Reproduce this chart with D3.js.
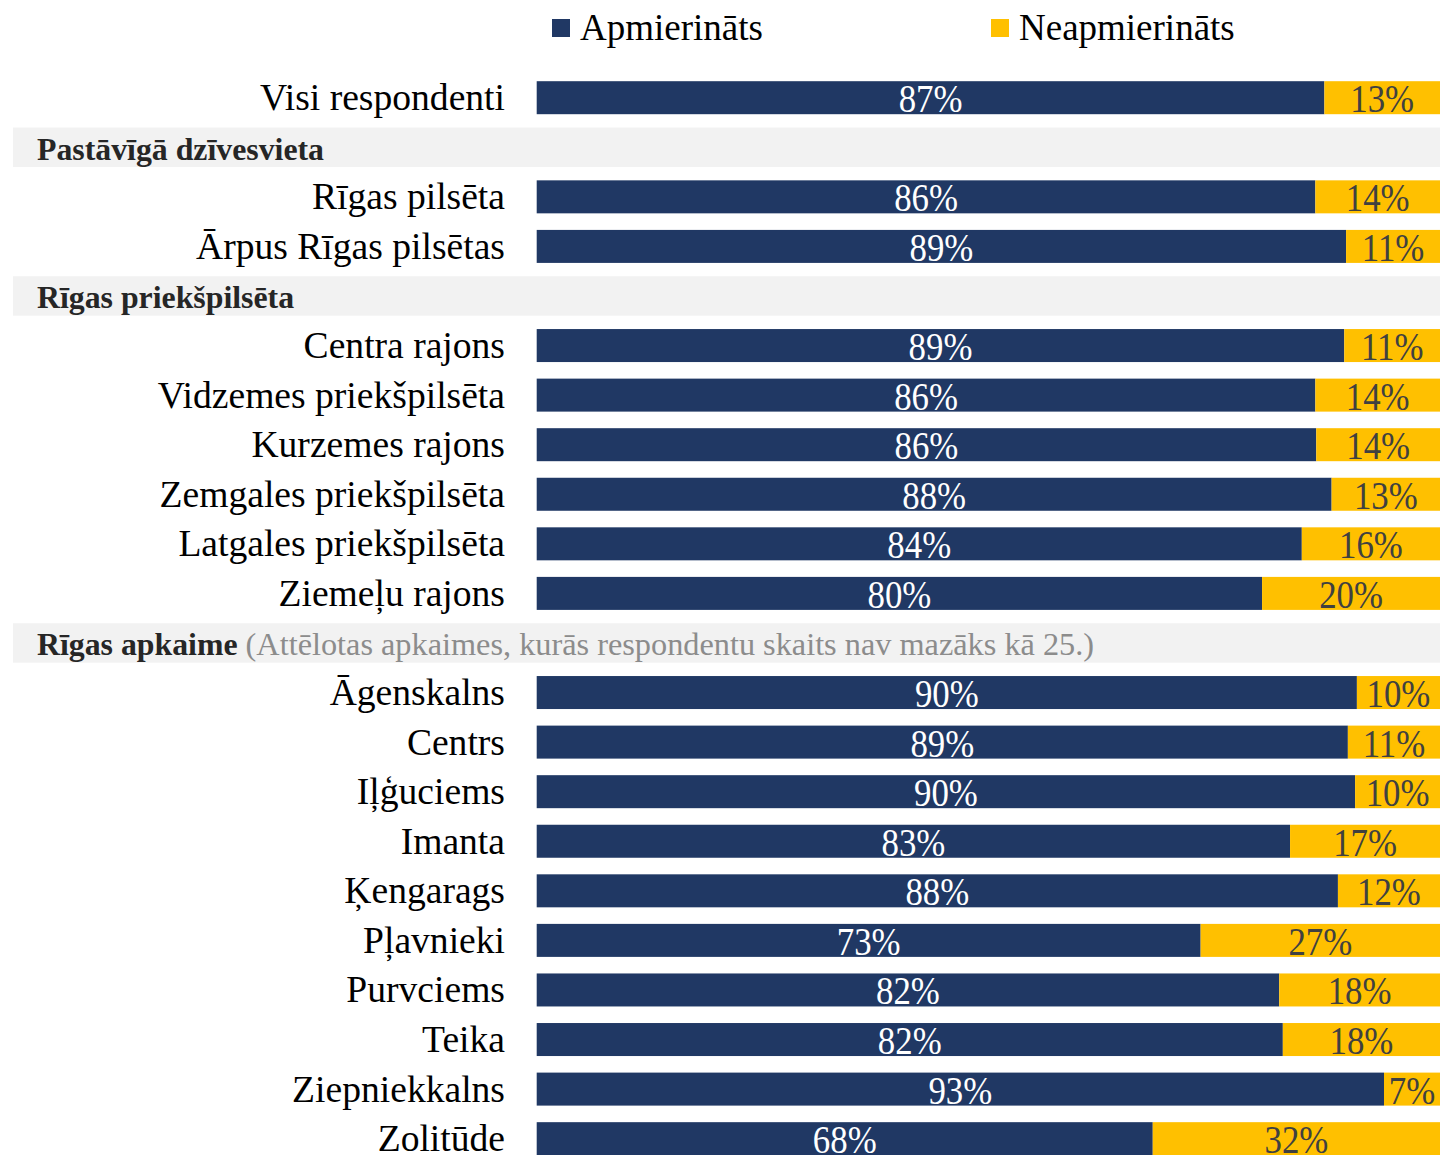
<!DOCTYPE html>
<html><head><meta charset="utf-8">
<script src="https://cdn.jsdelivr.net/npm/d3@7"></script>
<style>html,body{margin:0;padding:0;background:#fff;overflow:hidden}svg{display:block}</style>
</head><body>
<script>
// Rows (type: "row" = bar row, "head" = group header)
const rowNames = ["Visi respondenti","Pastāvīgā dzīvesvieta","Rīgas pilsēta","Ārpus Rīgas pilsētas","Rīgas priekšpilsēta","Centra rajons","Vidzemes priekšpilsēta","Kurzemes rajons","Zemgales priekšpilsēta","Latgales priekšpilsēta","Ziemeļu rajons","Rīgas apkaime","Āgenskalns","Centrs","Iļģuciems","Imanta","Ķengarags","Pļavnieki","Purvciems","Teika","Ziepniekkalns","Zolitūde"];
const rowTypes = ["row","head","row","row","head","row","row","row","row","row","row","head","row","row","row","row","row","row","row","row","row","row"];
const headNotes = ["","","","","","","","","","","","(Attēlotas apkaimes, kurās respondentu skaits nav mazāks kā 25.)","","","","","","","","","",""];
// Series values (percent), null for header rows
const satisfied    = [87.2,null,86.2,89.6,null,89.4,86.2,86.3,88.0,84.7,80.3,null,90.8,89.8,90.6,83.4,88.7,73.5,82.2,82.6,93.8,68.2];
const dissatisfied = [12.8,null,13.8,10.4,null,10.6,13.8,13.7,12.0,15.3,19.7,null, 9.2,10.2, 9.4,16.6,11.3,26.5,17.8,17.4, 6.2,31.8];
const satisfiedLabels    = ["87%",null,"86%","89%",null,"89%","86%","86%","88%","84%","80%",null,"90%","89%","90%","83%","88%","73%","82%","82%","93%","68%"];
const dissatisfiedLabels = ["13%",null,"14%","11%",null,"11%","14%","14%","13%","16%","20%",null,"10%","11%","10%","17%","12%","27%","18%","18%","7%","32%"];
const seriesNames = ["Apmierināts","Neapmierināts"];
const seriesColors = ["#203864","#FFC000"];

const W = 1440, H = 1155;
const svg = d3.select("body").append("svg").attr("width", W).attr("height", H);
const serif = "'Liberation Serif','Times New Roman',Times,serif";

const step = 49.57, y0 = 97.7 - step/2;
const y = d3.scaleBand().domain(d3.range(rowNames.length))
  .range([y0, y0 + step*rowNames.length])
  .paddingInner(1 - 33/step).paddingOuter((1 - 33/step)/2);
const cy = i => y(i) + y.bandwidth()/2;
const x = d3.scaleLinear().domain([0,100]).range([536.7, 1440]);

const idx = d3.range(rowNames.length);
const heads = idx.filter(i => rowTypes[i] === "head");
const rows = idx.filter(i => rowTypes[i] === "row");

// header backgrounds
svg.selectAll("rect.hbg").data(heads).join("rect").attr("class","hbg")
  .attr("x", 13).attr("width", W - 13)
  .attr("y", i => cy(i) - 19.7).attr("height", 39.4)
  .attr("fill", "#F2F2F2");
const ht = svg.selectAll("text.head").data(heads).join("text").attr("class","head")
  .attr("x", 37).attr("y", i => cy(i) + 12.5)
  .style("font-family", serif).style("font-size","31.8px");
ht.append("tspan").attr("font-weight","bold").attr("fill","#262626").text(i => rowNames[i]);
ht.filter(i => headNotes[i]).append("tspan").attr("fill","#8C8C8C").style("font-size","32.3px").text(i => " " + headNotes[i]);

// category labels
svg.selectAll("text.cat").data(rows).join("text").attr("class","cat")
  .attr("x", 505).attr("y", i => cy(i) + 12.5).attr("text-anchor","end")
  .style("font-family", serif).style("font-size","37.6px").attr("fill","#000")
  .text(i => rowNames[i]);

// bars
svg.selectAll("rect.sat").data(rows).join("rect").attr("class","sat")
  .attr("x", x(0)).attr("width", i => x(satisfied[i]) - x(0))
  .attr("y", i => y(i)).attr("height", y.bandwidth()).attr("fill", seriesColors[0]);
svg.selectAll("rect.dis").data(rows).join("rect").attr("class","dis")
  .attr("x", i => x(satisfied[i])).attr("width", i => x(satisfied[i] + dissatisfied[i]) - x(satisfied[i]))
  .attr("y", i => y(i)).attr("height", y.bandwidth()).attr("fill", seriesColors[1]);

// value labels
const lbl = (cls, fx, txt, col) => svg.selectAll("text."+cls).data(rows).join("text").attr("class",cls)
  .attr("transform", i => `translate(${fx(i)},${cy(i) + 14.5}) scale(0.87,1)`)
  .attr("text-anchor","middle").style("font-family", serif).style("font-size","40px")
  .attr("fill", col).text(txt);
lbl("vs", i => (x(0) + x(satisfied[i]))/2, i => satisfiedLabels[i], "#ffffff");
lbl("vd", i => (x(satisfied[i]) + x(satisfied[i] + dissatisfied[i]))/2, i => dissatisfiedLabels[i], "#404040");

// legend
const legX = [552, 991];
const lg = svg.selectAll("g.leg").data(seriesNames).join("g").attr("class","leg")
  .attr("transform", (d,k) => `translate(${legX[k]},0)`);
lg.append("rect").attr("x",0).attr("y",19).attr("width",18).attr("height",18).attr("fill",(d,k)=>seriesColors[k]);
lg.append("text").attr("x",28).attr("y",40).style("font-family", serif).style("font-size","37px")
  .attr("fill","#000").text(d => d);
</script>
</body></html>
